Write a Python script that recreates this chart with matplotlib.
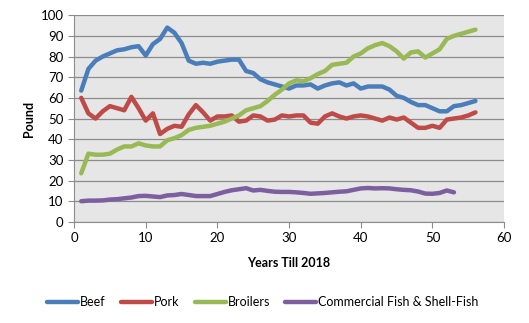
import matplotlib
matplotlib.use('Agg')
import matplotlib.pyplot as plt
import numpy as np

plt.rcParams['font.family'] = ['Lato', 'DejaVu Sans']

# consumo per cápita (libras), años 1..56
years = np.arange(1, 57)
beef = [63.5, 74, 78, 80, 81.5, 83, 83.5, 84.5, 85, 80.5,
        86, 88.5, 94, 91.5, 86.5, 78, 76.5, 77, 76.5, 77.5,
        78, 78.5, 78.5, 73, 72, 69, 67.5, 66.5, 65.5, 64.5,
        66, 66, 66.5, 64.5, 66, 67, 67.5, 66, 67, 64.5,
        65.5, 65.5, 65.5, 64, 61, 60, 58, 56.5, 56.5, 55,
        53.5, 53.5, 56, 56.5, 57.5, 58.5]
pork = [60, 52.5, 50, 53.5, 56, 55, 54, 60.5, 55, 49,
        52.5, 42.5, 45, 46.5, 46, 52, 56.5, 53, 49, 51,
        51, 51.5, 48.5, 49, 51.5, 51, 49, 49.5, 51.5, 51,
        51.5, 51.5, 48, 47.5, 51, 52.5, 51, 50, 51, 51.5,
        51, 50, 49, 50.5, 49.5, 50.5, 48, 45.5, 45.5, 46.5,
        45.5, 49.5, 50, 50.5, 51.5, 53]
broilers = [23.5, 33, 32.5, 32.5, 33, 35, 36.5, 36.5, 38, 37,
            36.5, 36.5, 39.5, 40.5, 42, 44.5, 45.5, 46, 46.5, 47.5,
            48.5, 50, 51.5, 54, 55, 56, 58.5, 61.5, 64, 67,
            68.5, 68, 69.5, 71.5, 73, 76, 76.5, 77, 80, 81.5,
            84, 85.5, 86.5, 85, 82.5, 79, 82, 82.5, 79.5, 81.5,
            83.5, 88.5, 90, 91, 92, 93]
fish_years = np.arange(1, 54)
fish = [10, 10.3, 10.3, 10.4, 10.8, 11, 11.4, 11.8, 12.5, 12.6,
        12.3, 12, 12.8, 13, 13.5, 13, 12.5, 12.5, 12.5, 13.5,
        14.5, 15.3, 15.8, 16.3, 15.2, 15.5, 15, 14.6, 14.5, 14.5,
        14.3, 14, 13.6, 13.8, 14, 14.3, 14.6, 14.8, 15.5, 16.2,
        16.4, 16.2, 16.3, 16.2, 15.8, 15.5, 15.3, 14.7, 13.7, 13.6,
        14, 15.2, 14.3]

fig = plt.figure(figsize=(5.29, 3.23), dpi=100)
ax = fig.add_axes([0.14, 0.313, 0.813, 0.64])
ax.set_facecolor('#e6e6e6')

lw = 3.2
estilo = dict(lw=lw, solid_capstyle='round', solid_joinstyle='round')
ax.plot(years, beef, color='#4a7ebb', label='Beef', **estilo)
ax.plot(years, pork, color='#be4b48', label='Pork', **estilo)
ax.plot(years, broilers, color='#98b954', label='Broilers', **estilo)
ax.plot(fish_years, fish, color='#7d5fa0', label='Commercial Fish & Shell-Fish', **estilo)

ax.set_xlim(0, 60)
ax.set_ylim(0, 100)
ax.set_xticks(np.arange(0, 61, 10))
ax.set_yticks(np.arange(0, 101, 10))
ax.yaxis.grid(True, color='#8c8c8c', lw=0.9)
ax.set_axisbelow(True)
for s in ['top', 'right']:
    ax.spines[s].set_visible(False)
for s in ['left', 'bottom']:
    ax.spines[s].set_color('#8c8c8c')
ax.tick_params(colors='#8c8c8c', labelcolor='black', labelsize=9.5, length=4)

ax.set_xlabel('Years Till 2018', fontsize=9, fontweight='bold', labelpad=9)
ax.set_ylabel('Pound', fontsize=9, fontweight='bold', labelpad=4)

fig.legend(loc='center', bbox_to_anchor=(0.497, 0.065), ncol=4, frameon=False,
           fontsize=9, handlelength=2.5, handletextpad=0.15, columnspacing=1.2)

plt.savefig('out.png', dpi=100)
